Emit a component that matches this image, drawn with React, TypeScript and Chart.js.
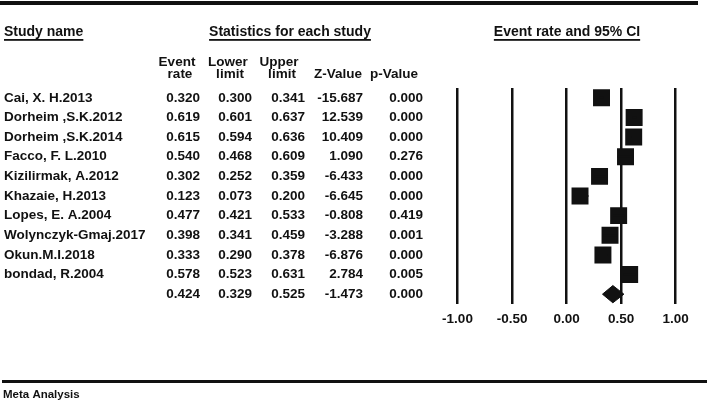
import { useEffect, useRef } from 'react';
import { Chart, registerables } from 'chart.js';

Chart.register(...registerables);

const studies = [
  'Cai, X. H.2013',
  'Dorheim ,S.K.2012',
  'Dorheim ,S.K.2014',
  'Facco, F. L.2010',
  'Kizilirmak, A.2012',
  'Khazaie, H.2013',
  'Lopes, E. A.2004',
  'Wolynczyk-Gmaj.2017',
  'Okun.M.I.2018',
  'bondad, R.2004',
];
const eventRate = [0.320, 0.619, 0.615, 0.540, 0.302, 0.123, 0.477, 0.398, 0.333, 0.578];
const lowerLimit = [0.300, 0.601, 0.594, 0.468, 0.252, 0.073, 0.421, 0.341, 0.290, 0.523];
const upperLimit = [0.341, 0.637, 0.636, 0.609, 0.359, 0.200, 0.533, 0.459, 0.378, 0.631];
const zValue = [-15.687, 12.539, 10.409, 1.090, -6.433, -6.645, -0.808, -3.288, -6.876, 2.784];
const pValue = [0.000, 0.000, 0.000, 0.276, 0.000, 0.000, 0.419, 0.001, 0.000, 0.005];

const summaryRate = 0.424;
const summaryLower = 0.329;
const summaryUpper = 0.525;
const summaryZ = -1.473;
const summaryP = 0.000;

const xTicks = [-1, -0.5, 0, 0.5, 1];

const FONT = '"Liberation Sans", Arial, sans-serif';
const INK = '#111';

const summaryRow = studies.length;

function underlinedText(ctx: CanvasRenderingContext2D, text: string, cx: number, y: number) {
  ctx.textAlign = 'center';
  ctx.fillText(text, cx, y);
  const w = ctx.measureText(text).width;
  ctx.fillRect(cx - w / 2, y + 7, w, 1.8);
}

const tablePlugin = {
  id: 'forestTable',
  afterDraw(chart: any) {
    const ctx: CanvasRenderingContext2D = chart.ctx;
    const ys = chart.scales.y;
    ctx.save();
    ctx.fillStyle = INK;
    ctx.textBaseline = 'middle';

    // rules
    ctx.fillRect(0, 1, 698, 4);
    ctx.fillRect(2, 380, 705, 3);

    ctx.font = `bold 14px ${FONT}`;
    // section headers
    ctx.textAlign = 'left';
    ctx.fillText('Study name', 4, 32);
    const w0 = ctx.measureText('Study name').width;
    ctx.fillRect(4, 39, w0, 1.8);
    underlinedText(ctx, 'Statistics for each study', 290, 32);
    underlinedText(ctx, 'Event rate and 95% CI', 567, 32);

    // column headers
    ctx.font = `bold 13.5px ${FONT}`;
    ctx.textAlign = 'center';
    ctx.fillText('Event', 177, 62);
    ctx.fillText('rate', 180, 74);
    ctx.fillText('Lower', 228, 62);
    ctx.fillText('limit', 230, 74);
    ctx.fillText('Upper', 279, 62);
    ctx.fillText('limit', 282, 74);
    ctx.fillText('Z-Value', 338, 74);
    ctx.fillText('p-Value', 394, 74);

    const colRight = [200, 252, 305, 363, 423];
    const drawRow = (name: string, vals: number[], row: number) => {
      const y = ys.getPixelForValue(row);
      ctx.textAlign = 'left';
      if (name) ctx.fillText(name, 4, y);
      ctx.textAlign = 'right';
      vals.forEach((v, i) => ctx.fillText(v.toFixed(3), colRight[i], y));
    };
    studies.forEach((s, i) =>
      drawRow(s, [eventRate[i], lowerLimit[i], upperLimit[i], zValue[i], pValue[i]], i)
    );
    drawRow('', [summaryRate, summaryLower, summaryUpper, summaryZ, summaryP], summaryRow);

    ctx.textAlign = 'left';
    ctx.font = `bold 11.5px ${FONT}`;
    ctx.fillText('Meta Analysis', 3, 395);
    ctx.restore();
  },
};

export default function App() {
  const ref = useRef<HTMLCanvasElement | null>(null);

  useEffect(() => {
    document.body.style.margin = '0';
    const canvas = ref.current;
    if (!canvas) return;

    const ciData: { x: number; y: number }[] = [];
    studies.forEach((_, i) => {
      ciData.push({ x: lowerLimit[i], y: i });
      ciData.push({ x: upperLimit[i], y: i });
      ciData.push({ x: NaN, y: NaN });
    });
    const pointData = studies.map((_, i) => ({ x: eventRate[i], y: i }));
    const dh = 0.44;
    const diamond = [
      { x: summaryLower, y: summaryRow },
      { x: summaryRate, y: summaryRow - dh },
      { x: summaryUpper, y: summaryRow },
      { x: summaryRate, y: summaryRow + dh },
      { x: summaryLower, y: summaryRow },
    ];

    const chart = new Chart(canvas, {
      type: 'scatter',
      data: {
        datasets: [
          {
            data: ciData,
            showLine: true,
            spanGaps: false,
            borderColor: INK,
            borderWidth: 2,
            pointRadius: 0,
          },
          {
            data: pointData,
            pointStyle: 'rect',
            pointRadius: 12,
            pointBackgroundColor: INK,
            pointBorderColor: INK,
            pointBorderWidth: 0,
          },
          {
            data: diamond,
            showLine: true,
            fill: 'shape',
            backgroundColor: INK,
            borderColor: INK,
            borderWidth: 1,
            pointRadius: 0,
            tension: 0,
          } as any,
        ],
      },
      options: {
        animation: false,
        responsive: false,
        events: [],
        layout: { padding: { left: 457.5, right: 33.3, top: 88, bottom: 0 } },
        plugins: {
          legend: { display: false },
          tooltip: { enabled: false },
        },
        scales: {
          x: {
            type: 'linear',
            min: xTicks[0],
            max: xTicks[xTicks.length - 1],
            afterBuildTicks: (scale: any) => {
              scale.ticks = xTicks.map((v) => ({ value: v }));
            },
            afterFit: (scale: any) => {
              scale.height = 101;
            },
            ticks: {
              callback: (v: any) => Number(v).toFixed(2),
              font: { family: FONT, size: 13.5, weight: 'bold' },
              color: INK,
              padding: 7,
              maxRotation: 0,
            },
            grid: { color: INK, lineWidth: 2.5, drawTicks: false },
            border: { display: false },
          },
          y: {
            type: 'linear',
            min: -0.5,
            max: summaryRow + 0.5,
            reverse: true,
            display: false,
          },
        },
      },
      plugins: [tablePlugin],
    });
    return () => chart.destroy();
  }, []);

  return (
    <div style={{ position: 'fixed', left: 0, top: 0, width: 709, height: 405, background: '#fff' }}>
      <canvas ref={ref} width={709} height={405} style={{ width: 709, height: 405, display: 'block' }} />
    </div>
  );
}
